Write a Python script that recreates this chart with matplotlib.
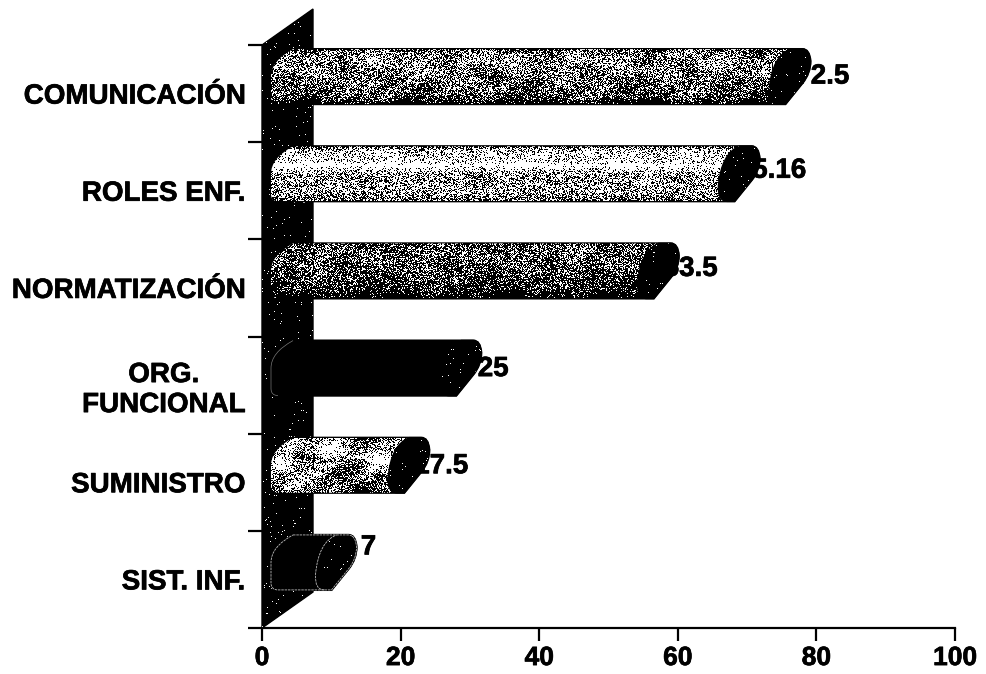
import matplotlib
matplotlib.use('Agg')
import matplotlib.pyplot as plt
import matplotlib.patheffects as pe
import numpy as np
from matplotlib.path import Path
from matplotlib.patches import PathPatch

categories = ['COMUNICACIÓN', 'ROLES ENF.', 'NORMATIZACIÓN', 'ORG.\nFUNCIONAL', 'SUMINISTRO', 'SIST. INF.']
values = [72.5, 65.16, 53.5, 25, 17.5, 7]
value_labels = ['72.5', '65.16', '53.5', '25', '17.5', '7']
x_ticks = [0, 20, 40, 60, 80, 100]

# stipple density from top to bottom of each tube (1 = solid black)
shade_pos = [0, .06, .12, .28, .34, .5, .85, 1]
shades = [
    [.7, .52, .48, .46, .48, .54, .66, .92],
    [.7, .28, .24, .2, .0, .42, .38, .6],
    [.7, .64, .62, .62, .64, .68, .8, .95],
    [1, 1, 1, 1, 1, 1, 1, 1],
    [.55, .38, .34, .34, .36, .42, .52, .68],
    [1, 1, 1, 1, 1, 1, 1, 1],
]
blobs = [.08, .03, .05, 0, .16, 0]
label_dy = [-17, -20, -19, -16, -16, -32]

PX = 100 / 693      # data units per pixel, x
PY = 1 / 97.2       # data units per pixel, y
bold = dict(fontsize=20, fontweight='bold', family='Liberation Sans',
            path_effects=[pe.withStroke(linewidth=0.5, foreground='black')])

fig = plt.figure(figsize=(9.87, 6.74), dpi=100)
ax = fig.add_axes([262 / 987, (674 - 628) / 674, 693 / 987, 583 / 674])
ax.set_xlim(0, 100)
ax.set_ylim(6, 0)


def texture(w, h, prof, blob, seed=0.0):
    X, Y = np.meshgrid(np.arange(w) + seed, np.arange(h) + seed * 3)
    noise = np.sin(X * 12.9898 + Y * 78.233) * 43758.5453
    noise = noise - np.floor(noise)
    t = (Y - Y.min()) / max(h - 1, 1)
    dens = np.interp(t, shade_pos, prof)
    low = np.sin(X / 11.0 + np.sin(Y / 7.0)) * np.sin(Y / 8.0 + X / 29.0)
    dens = dens - blob * low * 2
    return (noise > dens).astype(float)


def fill_texture(tex, extent, patch, z):
    im = ax.imshow(tex, cmap='gray', vmin=0, vmax=1, extent=extent, aspect='auto',
                   interpolation='nearest', zorder=z)
    im.set_clip_box(fig.bbox)
    im.set_clip_path(patch)


# the black wall
wall_v = [(0, 0), (51 * PX, -36 * PY), (51 * PX, 6 - 36 * PY), (0, 6), (0, 0)]
wall = PathPatch(Path(wall_v), fc='black', ec='black', lw=1, zorder=1, clip_on=False)
ax.add_patch(wall)
fill_texture(texture(52, 620, [.99] * 8, 0, 3.0), (0, 52 * PX, 6, -36 * PY), wall, 1.5)

for i, (cat, v, lab) in enumerate(zip(categories, values, value_labels)):
    yc = i + 0.5 - 17 * PY
    top = yc - 27.5 * PY
    bot = yc + 27.5 * PY
    x0 = 9 * PX
    # value label sits under the tube end
    ax.text(v + 58 * PX, i + 0.5 + label_dy[i] * PY, lab, ha='center', va='center',
            zorder=2, clip_on=False, **bold)

    # tube silhouette
    verts = [
        (x0 + 22 * PX, top),
        (v + 38 * PX, top),
        (v + 45 * PX, top), (v + 46 * PX, top + 12 * PY),
        (v + 46 * PX, top + 24 * PY), (v + 38 * PX, top + 34 * PY),
        (v + 21 * PX, bot),
        (x0 + 7 * PX, bot),
        (x0, bot), (x0, bot - 7 * PY),
        (x0, yc),
        (x0, top + 12 * PY), (x0 + 22 * PX, top),
        (x0 + 22 * PX, top),
    ]
    codes = [Path.MOVETO, Path.LINETO, Path.CURVE3, Path.CURVE3, Path.CURVE3, Path.CURVE3,
             Path.LINETO, Path.LINETO, Path.CURVE3, Path.CURVE3, Path.LINETO,
             Path.CURVE3, Path.CURVE3, Path.CLOSEPOLY]
    body = PathPatch(Path(verts, codes), fc='black', ec='black', lw=1.6, zorder=3)
    ax.add_patch(body)

    w_px = int(v / PX + 50)
    fill_texture(texture(w_px, 56, shades[i], blobs[i], seed=i * 37.0),
                 (0, w_px * PX, bot, top), body, 3.2)

    # dark slanted end of the tube
    cap_v = [
        (v + 26 * PX, top),
        (v + 38 * PX, top),
        (v + 45 * PX, top), (v + 46 * PX, top + 12 * PY),
        (v + 46 * PX, top + 24 * PY), (v + 38 * PX, top + 34 * PY),
        (v + 21 * PX, bot),
        (v + 14 * PX, bot),
        (v + 4 * PX, bot), (v + 5 * PX, yc + 12 * PY),
        (v + 8 * PX, top + 7 * PY), (v + 26 * PX, top),
        (v + 26 * PX, top),
    ]
    cap_c = [Path.MOVETO, Path.LINETO, Path.CURVE3, Path.CURVE3, Path.CURVE3, Path.CURVE3,
             Path.LINETO, Path.LINETO, Path.CURVE3, Path.CURVE3, Path.CURVE3, Path.CURVE3, Path.CLOSEPOLY]
    cap = PathPatch(Path(cap_v, cap_c), fc='black', ec='black', lw=1.2, zorder=4)
    ax.add_patch(cap)
    fill_texture(texture(50, 56, [.992] * 8, 0, seed=i * 11.0),
                 (v, v + 50 * PX, bot, top), cap, 4.2)

    # solid tubes show only a thin pale outline
    if lab == '25':
        ax.add_patch(PathPatch(Path(verts[7:13], [Path.MOVETO, Path.CURVE3, Path.CURVE3, Path.LINETO,
                                                  Path.CURVE3, Path.CURVE3]),
                               fc='none', ec='#777777', lw=0.5, zorder=4.5))
    if lab == '7':
        ax.add_patch(PathPatch(Path(verts, codes), fc='none', ec='#bbbbbb', lw=0.6, ls=(0, (3, 1)), zorder=4.5))
        ax.add_patch(PathPatch(Path(cap_v[7:12], [Path.MOVETO] + cap_c[8:12]), fc='none',
                               ec='#bbbbbb', lw=0.6, ls=(0, (3, 1)), zorder=4.5))

ax.set_xlim(0, 100)
ax.set_ylim(6, 0)

for s in ['top', 'right', 'left']:
    ax.spines[s].set_visible(False)
ax.spines['bottom'].set_linewidth(1.6)
ax.spines['bottom'].set_zorder(6)

ax.set_xticks(x_ticks)
ax.set_xticklabels([str(t) for t in x_ticks], **{**bold, 'fontsize': 19})
ax.set_yticks(np.arange(7))
ax.set_yticklabels([])
ax.set_yticks(np.arange(6) + 0.5, minor=True)
ax.set_yticklabels(categories, minor=True, multialignment='center', **bold)
ax.tick_params(axis='x', length=9, width=1.6, pad=4)
ax.tick_params(axis='y', which='major', length=10, width=1.6)
ax.tick_params(axis='y', which='minor', length=0, pad=12)

fig.savefig('out.png', dpi=100)
